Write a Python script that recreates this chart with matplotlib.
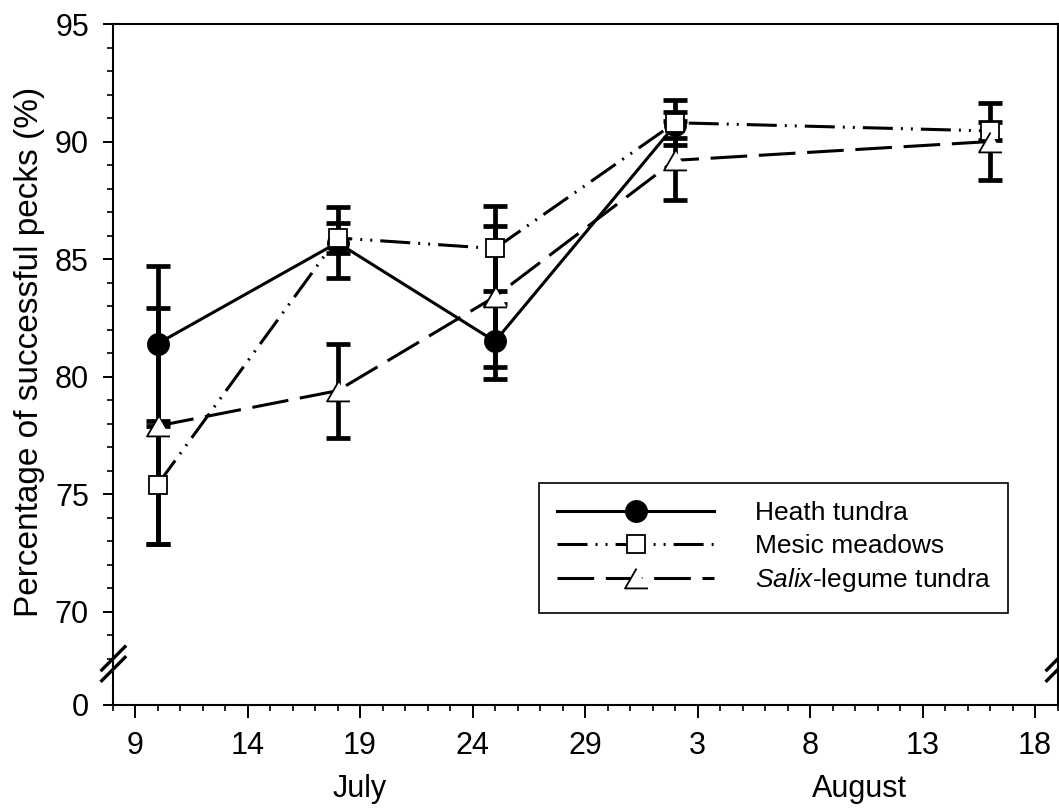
import numpy as np
import matplotlib
matplotlib.use("Agg")
import matplotlib.pyplot as plt
from matplotlib.lines import Line2D

plt.rcParams['font.family'] = ['Liberation Sans', 'DejaVu Sans']
plt.rcParams['mathtext.fontset'] = 'custom'
plt.rcParams['mathtext.rm'] = 'Liberation Sans'
plt.rcParams['mathtext.it'] = 'Liberation Sans:italic'
plt.rcParams['lines.scale_dashes'] = False

# ---- data (x = day counted from 30 June: 33 = 2 Aug, 47 = 16 Aug) ----
days = [10, 18, 25, 33, 47]
heath = [81.4, 85.7, 81.5, 90.7, np.nan]
heath_err = [3.3, 1.5, 1.6, 0.55, np.nan]
mesic = [75.4, 85.9, 85.45, 90.8, 90.45]
mesic_err = [2.5, 0.65, 1.8, 0.95, 0.38]
salix = [77.9, 79.4, 83.4, 89.2, 90.0]
salix_err = [5.0, 2.0, 3.0, 1.67, 1.62]

xtick_pos = [9, 14, 19, 24, 29, 34, 39, 44, 49]
xtick_labels = ["9", "14", "19", "24", "29", "3", "8", "13", "18"]
ytick_pos = [0, 70, 75, 80, 85, 90, 95]
ytick_labels = ["0", "70", "75", "80", "85", "90", "95"]
months = ["July", "August"]
month_pos = [19, 41.2]
series_labels = ["Heath tundra", "Mesic meadows", r"$\it{Salix}$-legume tundra"]

# ---- broken y scale ----
Y0 = 66.03
YB = 68.0


def fwd(y):
    y = np.asarray(y, dtype=float)
    return np.where(y >= YB, y, Y0 + y * (YB - Y0) / YB)


def inv(v):
    v = np.asarray(v, dtype=float)
    return np.where(v >= YB, v, (v - Y0) * YB / (YB - Y0))


fig = plt.figure(figsize=(10.59, 8.09), dpi=100)
L, R, B, T = 112.5, 1057.5, 705, 24
W, H = 1059, 809
ax = fig.add_axes([L / W, 1 - B / H, (R - L) / W, (B - T) / H])

ebkw = dict(fmt='none', ecolor='black', elinewidth=3.4, capsize=8.4, capthick=3.4, zorder=2)
ax.errorbar(days, heath, yerr=heath_err, **ebkw)
ax.errorbar(days, mesic, yerr=mesic_err, **ebkw)
ax.errorbar(days, salix, yerr=salix_err, **ebkw)

tri = [(0, 0.433), (-0.5, -0.433), (0.5, -0.433)]
lw = 2.2
l1, = ax.plot(days, heath, color='black', lw=lw, marker='o', ms=15.5, mfc='black',
              mec='black', zorder=3, label=series_labels[0])
l2, = ax.plot(days, mesic, color='black', lw=lw, marker='s', ms=12.5, mfc='white',
              mec='black', mew=1.3, zorder=4, label=series_labels[1])
l2.set_dashes([21.6, 5.8, 1.4, 5.8, 1.4, 5.8])
l3, = ax.plot(days, salix, color='black', lw=lw, marker=tri, ms=16.5, mfc='white',
              mec='black', mew=1.3, zorder=5, label=series_labels[2])
l3.set_dashes([26.4, 8.4])

ax.set_yscale('function', functions=(fwd, inv))
ax.set_ylim(0, 95)
ax.set_xlim(8, 50)

ax.set_xticks(xtick_pos)
ax.set_xticklabels(xtick_labels)
ax.set_xticks(np.arange(8, 51, 1), minor=True)
ax.set_yticks(ytick_pos)
ax.set_yticklabels(ytick_labels)
ax.set_yticks([v for v in range(68, 95) if v % 5 != 0], minor=True)

FS = 22
ax.tick_params(axis='x', which='major', direction='out', length=9.5, width=1.4,
               labelsize=FS, pad=9)
ax.tick_params(axis='x', which='minor', direction='out', length=4.3, width=1.2)
ax.tick_params(axis='y', which='major', direction='out', length=7, width=1.4,
               labelsize=FS, pad=10)
ax.tick_params(axis='y', which='minor', direction='out', length=4, width=1.2)

for s in ax.spines.values():
    s.set_linewidth(1.5)

# month labels
for m, p in zip(months, month_pos):
    ax.text(p, -0.123, m, transform=ax.get_xaxis_transform(), ha='center', va='center',
            fontsize=FS)

fig.text(30 / W, 1 - 352 / H, "Percentage of successful pecks (%)", rotation=90,
         ha='center', va='center', fontsize=24)

# break marks
for xc in (0.0, 1.0):
    for y0, y1 in ((0.0514, 0.0856), (0.0357, 0.0700)):
        ax.add_line(Line2D([xc - 0.0114, xc + 0.0132], [y0, y1], transform=ax.transAxes,
                           color='black', lw=2.4, clip_on=False, zorder=10))

leg = ax.legend(handles=[l1, l2, l3], loc='upper left',
                bbox_to_anchor=(0.4513, 0.326, 0.4963, 0.0), mode='expand',
                fontsize=19, handlelength=5.93, handletextpad=1.54, numpoints=1,
                labelspacing=0.32, borderpad=0.7, borderaxespad=0.0,
                fancybox=False, framealpha=1, edgecolor='black')
leg.get_frame().set_linewidth(1.2)

fig.savefig("out.png", dpi=100)
